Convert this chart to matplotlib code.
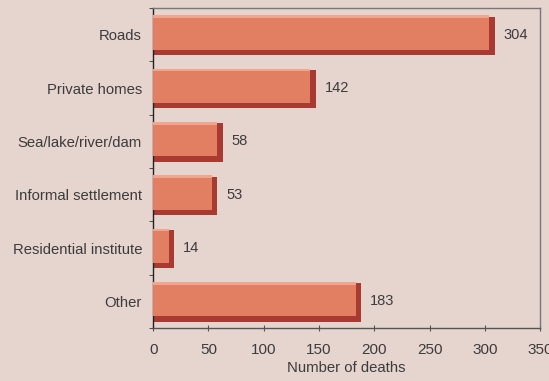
import numpy as np
import matplotlib
matplotlib.use('Agg')
import matplotlib.pyplot as plt

# Deaths by place of occurrence
categories = ['Roads', 'Private homes', 'Sea/lake/river/dam',
              'Informal settlement', 'Residential institute', 'Other']
deaths = [304, 142, 58, 53, 14, 183]

bg = '#E6D4CE'
face = '#E27E62'
shade = '#A83A32'
light = '#EFA58E'
txt = '#3c3c3c'

plt.rcParams['font.family'] = ['Liberation Sans', 'DejaVu Sans']

fig = plt.figure(figsize=(5.49, 3.81), dpi=100, facecolor=bg)
ax = fig.add_axes([0.279, 0.139, 0.705, 0.840], facecolor=bg)

y = np.arange(len(categories))
h = 0.72
depth = 5  # extrusion of the shaded edge, in data units
# dark body gives the shaded right and bottom edges
ax.barh(y + 0.02, [d + depth for d in deaths], height=h, color=shade, zorder=2)
# main face
ax.barh(y - 0.04, deaths, height=h - 0.08, color=face, zorder=3)
# thin highlight along the top
ax.barh(y - h / 2 + 0.02, deaths, height=0.05, color=light, zorder=4)

for yi, d in zip(y, deaths):
    ax.text(d + depth + 8, yi, str(d), va='center', ha='left', fontsize=10.5, color=txt)

ax.set_xlim(0, 350)
ax.set_ylim(len(categories) - 0.5, -0.5)
ax.set_xticks(np.arange(0, 351, 50))
ax.set_yticks(y)
ax.set_yticklabels(categories)
ax.set_yticks(np.arange(-0.5, len(categories)), minor=True)
ax.tick_params(axis='y', which='major', length=0, pad=8, labelsize=10.7, labelcolor=txt)
ax.tick_params(axis='y', which='minor', length=3, direction='out', color='#333333')
ax.tick_params(axis='x', length=4, direction='inout', labelsize=11, labelcolor=txt,
               color='#555555', pad=9)
ax.set_xlabel('Number of deaths', fontsize=10.7, color=txt, labelpad=3)

ax.spines['left'].set_color('#222222')
ax.spines['bottom'].set_color('#555555')
ax.spines['top'].set_color('#777777')
ax.spines['right'].set_color('#777777')
for s in ax.spines.values():
    s.set_linewidth(1.0)

fig.savefig('out.png', dpi=100, facecolor=bg)
